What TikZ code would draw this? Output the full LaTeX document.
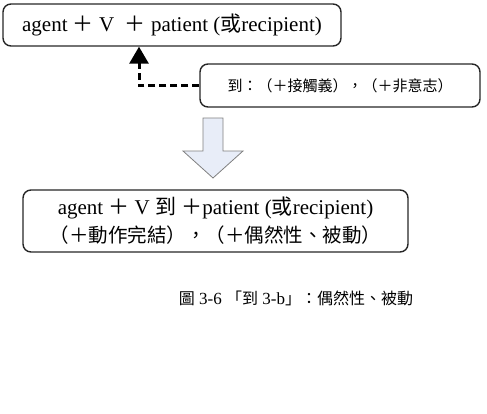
\documentclass[tikz,border=0pt]{standalone}
\usepackage{fontspec}
\setmainfont{Liberation Serif}
\newfontfamily\cjk{Noto Sans CJK TC}
\usetikzlibrary{arrows.meta}
\definecolor{arrowfill}{RGB}{232,237,248}
\begin{document}
\begin{tikzpicture}[x=1pt,y=-1pt,
  box/.style={draw=black!85, line width=1.4pt, rounded corners=8pt, inner sep=0pt, align=center},
  link/.style={line width=3pt, dash pattern=on 7pt off 4pt, -{Triangle[length=17pt,width=19pt]}},
  blockarrow/.style={draw=black!50, line width=0.8pt, fill=arrowfill}]
\useasboundingbox (0,0) rectangle (487,413);
\node[box, minimum width=338pt, minimum height=42pt, font=\fontsize{21}{24}\selectfont] (top) at (172,25)
  {agent {\cjk ＋} V\ \ {\cjk ＋} patient ({\cjk 或}recipient)};
\node[box, minimum width=280pt, minimum height=43pt, font=\fontsize{15}{18}\selectfont\cjk] (cond) at (340,85.5)
  {到：（＋接觸義），（＋非意志）};
\coordinate (bend) at (139,85.5);
\draw[link] (cond.west) -- (bend) -- (top.south -| bend);
\draw[blockarrow] (203,118) -- (223,118) -- (223,151) -- (243,151) -- (213,178) -- (183,151) -- (203,151) -- cycle;
\node[box, minimum width=385pt, minimum height=62pt, font=\fontsize{21}{28}\selectfont] (bot) at (215.5,221)
  {agent {\cjk ＋} V {\cjk 到} {\cjk ＋}patient ({\cjk 或}recipient)\\
   {\fontsize{19.5}{28}\selectfont\cjk （＋動作完結），（＋偶然性、被動）}};
\node[font=\fontsize{17}{20}\selectfont, anchor=center] (cap) at (296,298)
  {{\fontsize{16}{20}\selectfont\cjk 圖} 3-6 {\fontsize{16}{20}\selectfont\cjk 「到} 3-b{\fontsize{16}{20}\selectfont\cjk 」：偶然性、被動}};
\end{tikzpicture}
\end{document}
